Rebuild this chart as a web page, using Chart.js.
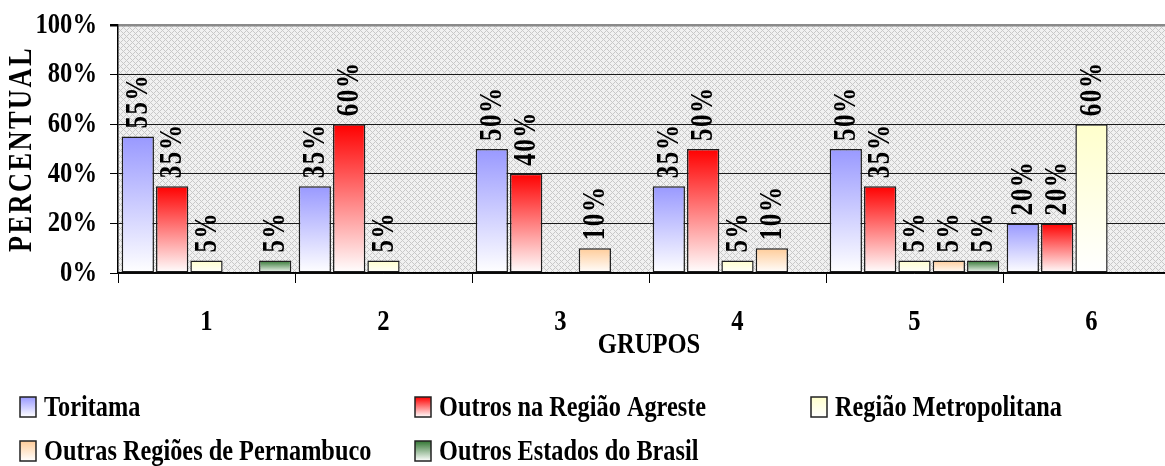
<!DOCTYPE html>
<html>
<head>
<meta charset="utf-8">
<script src="https://cdn.jsdelivr.net/npm/chart.js@4.4.1/dist/chart.umd.min.js"></script>
<style>
  html, body { margin: 0; padding: 0; background: #fff; overflow: hidden; width: 1165px; height: 466px; }
  canvas { display: block; }
</style>
</head>
<body>
<canvas id="c" width="1190" height="466"></canvas>
<script>
// ---- data ----
const grupos = ['1', '2', '3', '4', '5', '6'];
const toritama = [55, 35, 50, 35, 50, 20];
const outrosAgreste = [35, 60, 40, 50, 35, 20];
const regiaoMetropolitana = [5, 5, null, 5, 5, 60];
const outrasRegioesPE = [null, null, 10, 10, 5, null];
const outrosEstados = [5, null, null, null, 5, null];
const seriesNames = ['Toritama', 'Outros na Região Agreste', 'Região Metropolitana',
                     'Outras Regiões de Pernambuco', 'Outros Estados do Brasil'];
const seriesColors = ['#9999ff', '#ff0000', '#ffffcc', '#ffcc99', '#337733'];
const yTicks = [0, 20, 40, 60, 80, 100];

const FAMILY = '"Liberation Serif", "Times New Roman", serif';

const canvas = document.getElementById('c');
const ctx = canvas.getContext('2d');

// narrow lettering: text is squeezed along its own direction
const plainFillText = ctx.fillText.bind(ctx);
const narrowBySize = {
  30: { k: 0.82, spacing: '0px' },
  33: { k: 0.80, spacing: '3px' }
};
ctx.fillText = function (text, x, y, maxWidth) {
  const m = /(\d+(?:\.\d+)?)px/.exec(this.font);
  const rule = m && narrowBySize[Math.round(parseFloat(m[1]))];
  if (!rule) return plainFillText(text, x, y, maxWidth);
  const prev = this.letterSpacing;
  this.letterSpacing = rule.spacing;
  const w = this.measureText(text).width * rule.k;
  plainFillText(text, x, y, maxWidth === undefined ? w : Math.min(maxWidth, w));
  this.letterSpacing = prev;
};

// fine diagonal crosshatch used behind the plot
function hatchPattern(c) {
  const n = 6;
  const t = document.createElement('canvas');
  t.width = n; t.height = n;
  const g = t.getContext('2d');
  g.fillStyle = '#f1f1f1';
  g.fillRect(0, 0, n, n);
  g.fillStyle = '#c8c8c8';
  for (let y = 0; y < n; y++) {
    for (let x = 0; x < n; x++) {
      if ((x - y + n) % n === 0 || (x + y) % n === 0) g.fillRect(x, y, 1, 1);
    }
  }
  return c.createPattern(t, 'repeat');
}

// each bar fades from its colour at the top to white at the base
function barFill(color) {
  return (c) => {
    const chart = c.chart;
    const y = chart.scales && chart.scales.y;
    if (!chart.chartArea || !y || c.raw == null) return color;
    const top = y.getPixelForValue(c.raw);
    const base = y.getPixelForValue(0);
    const g = chart.ctx.createLinearGradient(0, top, 0, base);
    g.addColorStop(0, color);
    g.addColorStop(1, '#ffffff');
    return g;
  };
}

const plotBackground = {
  id: 'plotBackground',
  beforeDraw(chart) {
    const { left, top, right, bottom } = chart.chartArea;
    const c = chart.ctx;
    c.save();
    c.fillStyle = hatchPattern(c);
    c.fillRect(left, top, right - left, bottom - top);
    c.restore();
  }
};

const valueLabels = {
  id: 'valueLabels',
  afterDatasetsDraw(chart) {
    const c = chart.ctx;
    c.save();
    c.font = `bold 32px ${FAMILY}`;
    c.fillStyle = '#000';
    c.textAlign = 'left';
    c.textBaseline = 'middle';
    c.letterSpacing = '2px';
    chart.data.datasets.forEach((ds, di) => {
      const meta = chart.getDatasetMeta(di);
      meta.data.forEach((el, i) => {
        const v = ds.data[i];
        if (v == null) return;
        const text = v + '%';
        const w = c.measureText(text).width * 0.78;
        c.save();
        c.translate(el.x + 1, el.y - 8);
        c.rotate(-Math.PI / 2);
        plainFillText(text, 0, 0, w);
        c.restore();
      });
    });
    c.restore();
  }
};

const gridLegend = {
  id: 'gridLegend',
  afterDraw(chart) {
    const c = chart.ctx;
    const cols = [20, 415, 811];
    const rows = [407, 451];
    c.save();
    c.font = `bold 30px ${FAMILY}`;
    c.textAlign = 'left';
    c.textBaseline = 'middle';
    chart.data.datasets.forEach((ds, i) => {
      const x = cols[i % 3];
      const y = rows[Math.floor(i / 3)];
      const g = c.createLinearGradient(0, y - 10, 0, y + 10);
      g.addColorStop(0, seriesColors[i]);
      g.addColorStop(1, '#ffffff');
      c.fillStyle = g;
      c.fillRect(x, y - 10, 16, 20);
      c.strokeStyle = '#222';
      c.lineWidth = 1.5;
      c.strokeRect(x, y - 10, 16, 20);
      c.fillStyle = '#000';
      const w = c.measureText(ds.label).width * 0.81;
      plainFillText(ds.label, x + 24, y + 1, w);
    });
    c.restore();
  }
};

const seriesData = [toritama, outrosAgreste, regiaoMetropolitana, outrasRegioesPE, outrosEstados];

new Chart(canvas, {
  type: 'bar',
  data: {
    labels: grupos,
    datasets: seriesNames.map((name, i) => ({
      label: name,
      data: seriesData[i],
      backgroundColor: barFill(seriesColors[i]),
      borderColor: '#1e1e1e',
      borderWidth: 1.5,
      borderSkipped: false,
      categoryPercentage: 0.97,
      barPercentage: 0.94
    }))
  },
  options: {
    responsive: false,
    animation: false,
    devicePixelRatio: 1,
    layout: { padding: { top: 25, right: 10, bottom: 103, left: 0 } },
    plugins: {
      legend: { display: false },
      tooltip: { enabled: false }
    },
    scales: {
      x: {
        afterFit: (s) => { s.height = 90; },
        grid: { drawOnChartArea: false, drawTicks: true, tickLength: 10, color: '#000', offset: true },
        border: { color: '#000', width: 1.5 },
        ticks: { color: '#000', padding: 21, font: { family: FAMILY, size: 30, weight: 'bold' } },
        title: {
          display: true, text: 'GRUPOS', color: '#000', padding: 0,
          font: { family: FAMILY, size: 30, weight: 'bold' }
        }
      },
      y: {
        min: 0, max: 100,
        afterFit: (s) => { s.width = 118; },
        afterBuildTicks: (s) => { s.ticks = yTicks.map(v => ({ value: v })); },
        grid: {
          color: (c) => (c.tick && c.tick.value === 100 ? '#8a8a8a' : '#1a1a1a'),
          lineWidth: (c) => (c.tick && c.tick.value === 100 ? 2.5 : 1),
          tickColor: '#000', tickLength: 8
        },
        border: { color: '#000', width: 1.5 },
        ticks: {
          color: '#000', padding: 13,
          font: { family: FAMILY, size: 30, weight: 'bold', lineHeight: 0.8 },
          callback: (v) => v + '%'
        },
        title: {
          display: true, text: 'PERCENTUAL', color: '#000', padding: { top: 3 },
          font: { family: FAMILY, size: 33, weight: 'bold' }
        }
      }
    }
  },
  plugins: [plotBackground, valueLabels, gridLegend]
});
</script>
</body>
</html>
